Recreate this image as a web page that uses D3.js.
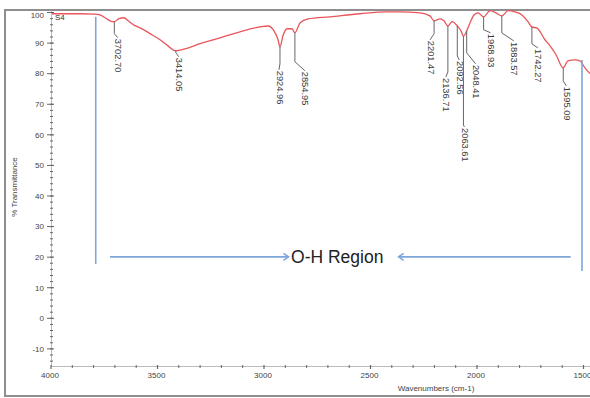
<!DOCTYPE html>
<html><head><meta charset="utf-8">
<script src="https://cdn.jsdelivr.net/npm/d3@7"></script>
<style>body{margin:0;background:#fff}svg{display:block}</style>
</head><body>
<svg id="c" width="590" height="398"></svg>
<script>
// ---- data ----
const wavenumbers = [3995,3864,3793,3770,3746,3723,3702.7,3681,3657,3638,3606,3582,3535,3488,3451,3414.05,3371,3300,3207,3113,3019,2981,2953,2934,2924.96,2911,2892,2869,2854.95,2831,2793,2690,2549,2432,2362,2268,2221,2201.47,2174,2155,2136.71,2117,2092.56,2075,2063.61,2048.41,2033,2014,1995,1968.93,1939,1911,1883.57,1854,1822,1789,1761,1742.27,1718,1681,1657,1629,1595.09,1573,1540,1517,1493,1470];
const transmittance = [99.6,99.6,99.5,99.2,98.3,97.3,97.0,98.0,98.3,97.3,95.7,95.0,93.1,91.1,89.1,87.5,88.1,89.8,91.7,93.7,95.3,95.6,94.0,91.1,88.8,92.4,94.7,94.7,93.4,96.6,97.9,98.6,99.6,100.2,100.2,99.9,98.9,97.3,97.9,97.3,95.6,97.0,95.6,94.0,92.3,94.0,96.6,99.2,99.9,98.6,100.6,99.9,98.9,100.6,100.2,99.2,97.0,95.3,94.9,91.1,89.1,86.2,81.9,84.2,84.5,84.2,81.9,80.0];
const peakPositions = [3702.70,3414.05,2924.96,2854.95,2201.47,2136.71,2092.56,2063.61,2048.41,1968.93,1883.57,1742.27,1595.09];
const peakLabels = ["3702.70","3414.05","2924.96","2854.95","2201.47","2136.71","2092.56","2063.61","2048.41","1968.93","1883.57","1742.27","1595.09"];
const yTicks = [100,90,80,70,60,50,40,30,20,10,0,-10];
const xTicks = [4000,3500,3000,2500,2000,1500];
const sampleName = "S4";
const regionLabel = "O-H Region";
const xTitle = "Wavenumbers (cm-1)";
const yTitle = "% Transmittance";

// ---- layout ----
const svg = d3.select("#c");
const x = d3.scaleLinear().domain([4000, 1500]).range([51, 583.5]);
const y = d3.scaleLinear().domain([-15.6, 100.5]).range([366, 11]);
const font = "'Liberation Sans', Arial, sans-serif";

// frame
svg.append("rect").attr("x",5).attr("y",10).attr("width",640).attr("height",386)
  .attr("fill","none").attr("stroke","#8e8e8e").attr("stroke-width",2);

// y axis
svg.append("line").attr("x1",51.5).attr("x2",51.5).attr("y1",11).attr("y2",366)
  .attr("stroke","#bbb").attr("stroke-width",1);
d3.range(-14, 101, 2).forEach(v=>{
  svg.append("line").attr("x1",50).attr("x2",53).attr("y1",y(v)).attr("y2",y(v))
    .attr("stroke","#666").attr("stroke-width",1);
});
const yAx = svg.append("g");
yAx.selectAll("line").data(yTicks).join("line")
  .attr("x1",47).attr("x2",54).attr("y1",d=>y(d)).attr("y2",d=>y(d))
  .attr("stroke","#666");
yAx.selectAll("text").data(yTicks).join("text")
  .attr("x",44).attr("y",d=>y(d)+(d===100?3:0)).attr("dy","0.35em")
  .attr("text-anchor","end").attr("font-family",font).attr("font-size",8).attr("fill","#444")
  .text(d=>d);

// x axis
svg.append("line").attr("x1",51).attr("x2",590).attr("y1",366.5).attr("y2",366.5)
  .attr("stroke","#bbb");
d3.range(4000, 1400, -100).forEach(v=>{
  const major = v % 500 === 0;
  svg.append("line").attr("x1",x(v)).attr("x2",x(v)).attr("y1",365).attr("y2",major?369:368)
    .attr("stroke","#666").attr("stroke-width",major?1.2:1);
});
svg.append("g").selectAll("text").data(xTicks).join("text")
  .attr("x",d=>x(d)-1).attr("y",378)
  .attr("text-anchor","middle").attr("font-family",font).attr("font-size",8).attr("fill","#444")
  .text(d=>d);

// titles
svg.append("text").attr("x",436).attr("y",391).attr("text-anchor","middle")
  .attr("font-family",font).attr("font-size",8).attr("fill","#444").text(xTitle);
svg.append("text").attr("transform","translate(17,187) rotate(-90)").attr("text-anchor","middle")
  .attr("font-family",font).attr("font-size",8).attr("fill","#444").text(yTitle);
svg.append("text").attr("x",55).attr("y",20).attr("font-family",font).attr("font-size",8)
  .attr("fill","#333").text(sampleName);

// spectrum
svg.append("clipPath").attr("id","clip").append("rect").attr("x",51).attr("y",8).attr("width",545).attr("height",360);
const pts = wavenumbers.map((w,i)=>[w, transmittance[i]]);
svg.append("path").datum(pts).attr("clip-path","url(#clip)")
  .attr("fill","none").attr("stroke","#e8555a").attr("stroke-width",1.3)
  .attr("d", d3.line().x(d=>x(d[0])).y(d=>y(d[1])).curve(d3.curveMonotoneX));

// peak labels: [vertical leader length below curve (px), label dx (px), gap (px)]
const labelLayout = [[12,3.5,5],[2,3,5],[17,-1,7],[29,10,10],[13,-4,7],[46,-2,6],[30,2,5],[89,1,3],[22,9,12],[13,7,4],[17,12,9],[17,6,5],[13,3,6]];
const interp = d3.scaleLinear().domain(wavenumbers).range(transmittance);
const lg = svg.append("g");
peakPositions.forEach((p,i)=>{
  const px = x(p), py = y(interp(p));
  const [drop, dx, gap] = labelLayout[i];
  const by = py + drop;
  lg.append("polyline").attr("points",`${px},${py} ${px},${by} ${px+dx},${by+gap-1}`)
    .attr("fill","none").attr("stroke","#666").attr("stroke-width",1);
  lg.append("text").attr("transform",`translate(${px+dx},${by+gap}) rotate(90)`)
    .attr("dominant-baseline","middle").attr("font-family",font).attr("font-size",9.3)
    .attr("fill","#3a3a3a").text(peakLabels[i]);
});

// O-H region annotation (in data units)
const blue = "#7ea6d8";
const ann = svg.append("g").attr("stroke",blue).attr("stroke-width",1.6).attr("fill","none");
ann.append("line").attr("x1",x(3790)).attr("x2",x(3790)).attr("y1",y(98.6)).attr("y2",y(17.8));
ann.append("line").attr("x1",x(1507)).attr("x2",x(1507)).attr("y1",y(84.5)).attr("y2",y(15.5));
const ay = y(20.1);
ann.append("line").attr("x1",x(3723)).attr("x2",x(2885)).attr("y1",ay).attr("y2",ay);
ann.append("polyline").attr("points",`${x(2885)-5},${ay-3.5} ${x(2885)},${ay} ${x(2885)-5},${ay+3.5}`);
ann.append("line").attr("x1",x(2368)).attr("x2",x(1560)).attr("y1",ay).attr("y2",ay);
ann.append("polyline").attr("points",`${x(2368)+5},${ay-3.5} ${x(2368)},${ay} ${x(2368)+5},${ay+3.5}`);
svg.append("text").attr("x",x(2873)).attr("y",ay+6).attr("font-family",font).attr("font-size",17.5)
  .attr("fill","#222").text(regionLabel);
</script>
</body></html>
